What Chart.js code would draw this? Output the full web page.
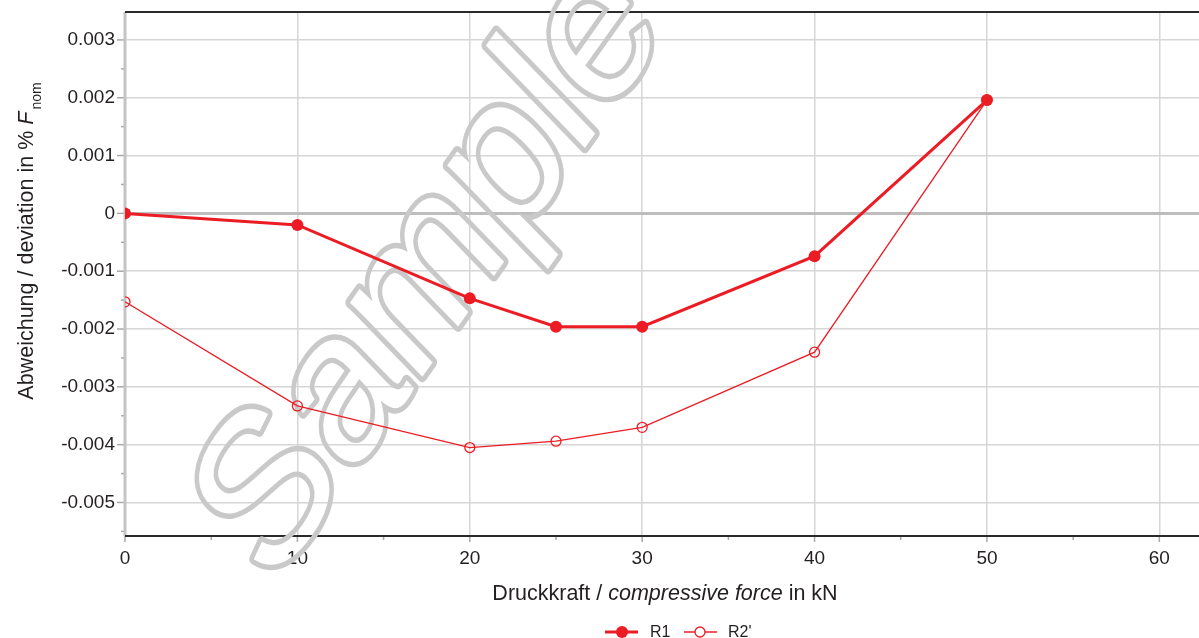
<!DOCTYPE html>
<html>
<head>
<meta charset="utf-8">
<script src="https://cdn.jsdelivr.net/npm/chart.js@4"></script>
<style>
  html, body { margin: 0; padding: 0; background: #fff; }
  canvas { display: block; }
</style>
</head>
<body>
<canvas id="chart" width="1199" height="638"></canvas>
<script>
const forceKN = [0, 10, 20, 25, 30, 40, 50];
const devR1 = [0, -0.0002, -0.00147, -0.00196, -0.00196, -0.00074, 0.00196];
const devR2 = [-0.00153, -0.00333, -0.00405, -0.00394, -0.0037, -0.0024, 0.00196];

const xTicks = [0, 5, 10, 15, 20, 25, 30, 35, 40, 45, 50, 55, 60];
const yTicks = [-0.0055, -0.005, -0.0045, -0.004, -0.0035, -0.003, -0.0025, -0.002, -0.0015, -0.001,
  -0.0005, 0, 0.0005, 0.001, 0.0015, 0.002, 0.0025, 0.003];

const RED = '#ec1c24';
const FONT = '"Liberation Sans", Arial, sans-serif';
const TEXT = '#231f20';

const isMajorY = v => Math.abs(Math.round(v * 1000) - v * 1000) < 1e-6;
const isMajorX = v => v % 10 === 0;

function line(ctx, x1, y1, x2, y2) {
  ctx.beginPath();
  ctx.moveTo(x1, y1);
  ctx.lineTo(x2, y2);
  ctx.stroke();
}

// outlined "Sample" stamp, drawn once on its own canvas
function makeStamp(w, h) {
  const c = document.createElement('canvas');
  c.width = w; c.height = h;
  const g = c.getContext('2d');
  g.translate(271, 590);
  g.scale(1, 1.207);
  g.rotate(-49.4 * Math.PI / 180);
  g.font = '180px ' + FONT;
  g.lineJoin = 'round';
  g.lineWidth = 9;
  g.strokeStyle = '#c9c9c9';
  g.strokeText('Sample', 0, 0);
  g.globalCompositeOperation = 'destination-out';
  g.fillText('Sample', 0, 0);
  return c;
}
const stamp = makeStamp(1199, 638);

const frame = {
  id: 'frame',
  beforeDatasetsDraw(chart) {
    const { ctx, chartArea: a, scales: { x, y } } = chart;
    ctx.save();
    ctx.strokeStyle = '#a9a9a9';
    ctx.lineWidth = 1.5;
    yTicks.forEach(v => {
      const py = y.getPixelForValue(v);
      line(ctx, a.left - (isMajorY(v) ? 8 : 4), py, a.left, py);
    });
    xTicks.forEach(v => {
      const px = x.getPixelForValue(v);
      line(ctx, px, a.bottom, px, a.bottom + (isMajorX(v) ? 6 : 4));
    });
    ctx.strokeStyle = '#c4c4c4';
    ctx.lineWidth = 3;
    line(ctx, a.left, a.top, a.left, a.bottom);
    ctx.strokeStyle = '#2a2a2a';
    ctx.lineWidth = 2;
    line(ctx, a.left, a.top, a.right, a.top);
    line(ctx, a.left, a.bottom, a.right, a.bottom);
    ctx.drawImage(stamp, 0, 0);
    ctx.restore();
  },
  afterDraw(chart) {
    const { ctx } = chart;
    ctx.save();
    ctx.fillStyle = TEXT;
    ctx.textBaseline = 'alphabetic';

    // x title, mixed upright / italic
    const xParts = [['Druckkraft / ', ''], ['compressive force', 'italic '], [' in kN', '']];
    const fs = 21.5;
    let w = 0;
    xParts.forEach(p => { ctx.font = p[1] + fs + 'px ' + FONT; w += ctx.measureText(p[0]).width; });
    let cx = 665 - w / 2;
    xParts.forEach(p => {
      ctx.font = p[1] + fs + 'px ' + FONT;
      ctx.fillText(p[0], cx, 600);
      cx += ctx.measureText(p[0]).width;
    });

    // y title, rotated, with subscript
    ctx.save();
    ctx.translate(33, 242);
    ctx.rotate(-Math.PI / 2);
    const yParts = [['Abweichung / deviation in % ', '', fs, 0], ['F', 'italic ', fs, 0], ['nom', '', 14, 8]];
    w = 0;
    yParts.forEach(p => { ctx.font = p[1] + p[2] + 'px ' + FONT; w += ctx.measureText(p[0]).width; });
    cx = -w / 2;
    yParts.forEach(p => {
      ctx.font = p[1] + p[2] + 'px ' + FONT;
      ctx.fillText(p[0], cx, p[3]);
      cx += ctx.measureText(p[0]).width + (p[0] === 'F' ? 2 : 0);
    });
    ctx.restore();

    // legend
    ctx.strokeStyle = RED;
    ctx.fillStyle = RED;
    ctx.lineWidth = 3;
    line(ctx, 605, 632, 638, 632);
    ctx.beginPath(); ctx.arc(622, 632, 6, 0, Math.PI * 2); ctx.fill();
    ctx.lineWidth = 1.3;
    line(ctx, 684, 632, 717, 632);
    ctx.fillStyle = '#fff';
    ctx.beginPath(); ctx.arc(700, 632, 5, 0, Math.PI * 2); ctx.fill(); ctx.stroke();
    ctx.fillStyle = TEXT;
    ctx.font = '16px ' + FONT;
    ctx.fillText('R1', 650, 637);
    ctx.fillText("R2'", 728, 637);

    ctx.restore();
  }
};

new Chart(document.getElementById('chart'), {
  type: 'line',
  data: {
    datasets: [
      {
        label: 'R1',
        data: forceKN.map((f, i) => ({ x: f, y: devR1[i] })),
        borderColor: RED,
        backgroundColor: RED,
        borderWidth: 3,
        pointRadius: 6,
        pointBorderWidth: 0,
        pointBackgroundColor: RED,
        order: 1
      },
      {
        label: "R2'",
        data: forceKN.map((f, i) => ({ x: f, y: devR2[i] })),
        borderColor: RED,
        backgroundColor: '#fff',
        borderWidth: 1.3,
        pointRadius: 5,
        pointBorderWidth: 1.3,
        pointBackgroundColor: 'rgba(255,255,255,0)',
        order: 2
      }
    ]
  },
  options: {
    responsive: false,
    animation: false,
    layout: { autoPadding: false, padding: { top: 12, left: 0, right: 0, bottom: 0 } },
    plugins: { legend: { display: false }, tooltip: { enabled: false } },
    scales: {
      x: {
        type: 'linear',
        min: 0,
        max: 62.3,
        afterBuildTicks: s => { s.ticks = xTicks.map(v => ({ value: v })); },
        afterFit: s => { s.height = 102; s.paddingLeft = 0; s.paddingRight = 0; },
        border: { display: false },
        grid: {
          drawTicks: false,
          lineWidth: 1.5,
          color: c => (isMajorX(c.tick.value) && c.tick.value !== 0) ? '#d6d6d6' : 'rgba(0,0,0,0)'
        },
        ticks: {
          autoSkip: false,
          maxRotation: 0,
          padding: 11,
          color: TEXT,
          font: { family: FONT, size: 19 },
          callback: v => isMajorX(v) ? String(v) : ''
        }
      },
      y: {
        min: -0.00558,
        max: 0.003483,
        afterBuildTicks: s => { s.ticks = yTicks.map(v => ({ value: v })); },
        afterFit: s => { s.width = 125; s.paddingTop = 0; s.paddingBottom = 0; },
        border: { display: false },
        grid: {
          drawTicks: false,
          lineWidth: c => c.tick.value === 0 ? 3 : 1.5,
          color: c => c.tick.value === 0 ? '#bdbdbd' : (isMajorY(c.tick.value) ? '#d6d6d6' : 'rgba(0,0,0,0)')
        },
        ticks: {
          autoSkip: false,
          padding: 10,
          color: TEXT,
          font: { family: FONT, size: 19 },
          callback: v => v === 0 ? '0' : (isMajorY(v) ? v.toFixed(3) : '')
        }
      }
    }
  },
  plugins: [frame]
});
</script>
</body>
</html>
